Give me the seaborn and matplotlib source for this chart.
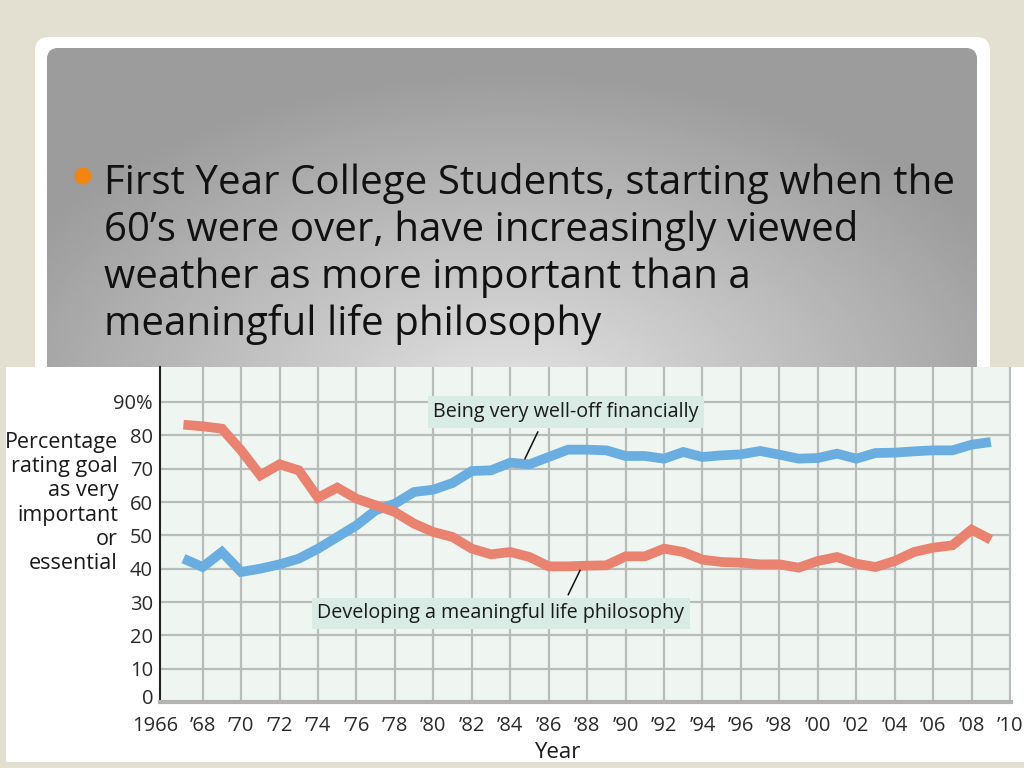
import numpy as np
import pandas as pd
import matplotlib
matplotlib.use("Agg")
import matplotlib.pyplot as plt
import matplotlib.transforms as mtransforms
from matplotlib.patches import FancyBboxPatch, Rectangle, Circle
import seaborn as sns

# data (freshman survey, 1967-2009)
years = list(range(1967, 2010))
well_off = [43, 40.5, 45, 39, 40, 41.3, 43, 46, 49.5, 53, 57.5, 59.5, 63, 63.7, 65.7,
            69.3, 69.5, 71.8, 71.3, 73.5, 75.7, 75.7, 75.5, 73.8, 73.8, 73, 75, 73.5, 74, 74.3,
            75.3, 74.2, 73, 73.2, 74.5, 73, 74.7, 74.8, 75.2, 75.5, 75.5, 77.2, 78]
philosophy = [83.2, 82.7, 82, 75.5, 68, 71.3, 69.5, 61.3, 64.3, 61, 59, 57, 53.5, 51, 49.5,
              46, 44.3, 45, 43.5, 40.7, 40.7, 40.9, 41, 43.7, 43.7, 46, 45, 42.7, 42, 41.8,
              41.3, 41.3, 40.3, 42.3, 43.5, 41.5, 40.5, 42.3, 45, 46.3, 47, 51.7, 48.7]

series_names = ["Being very well-off financially", "Developing a meaningful life philosophy"]
x_ticks = list(range(1966, 2011, 2))
x_labels = ["1966"] + ["\u2019%02d" % (y % 100) for y in x_ticks[1:]]
y_ticks = list(range(0, 100, 10))
y_labels = [str(v) for v in y_ticks[:-1]] + ["90%"]

slide_lines = ["First Year College Students, starting when the",
               "60\u2019s were over, have increasingly viewed",
               "weather as more important than a",
               "meaningful life philosophy"]

df = pd.DataFrame({
    "Year": years * 2,
    "Percent": well_off + philosophy,
    "Goal": [series_names[0]] * len(years) + [series_names[1]] * len(years),
})

sns.set_theme(style="white")
plt.rcParams["font.family"] = ["Open Sans", "DejaVu Sans"]

fig = plt.figure(figsize=(10.24, 7.68), dpi=100)
fig.patch.set_facecolor("#e3e0d2")

# slide background in pixel coordinates
bg = fig.add_axes([0, 0, 1, 1])
bg.set_xlim(0, 1024)
bg.set_ylim(768, 0)
bg.axis("off")

bg.add_patch(FancyBboxPatch((37, 40), 953, 720, boxstyle="round,pad=0,rounding_size=14",
                            fc="#d2cfc2", ec="none", zorder=1))
bg.add_patch(FancyBboxPatch((35, 37), 955, 720, boxstyle="round,pad=0,rounding_size=14",
                            fc="white", ec="none", zorder=2))
panel = FancyBboxPatch((47, 48), 930, 700, boxstyle="round,pad=0,rounding_size=12",
                       fc="#a0a0a0", ec="none", zorder=3)
bg.add_patch(panel)
gx, gy = np.meshgrid(np.linspace(47, 977, 300), np.linspace(48, 370, 120))
dist = np.sqrt(((gx - 512) / 560) ** 2 + ((gy - 400) / 330) ** 2)
shade = 0.89 - 0.28 * np.clip(dist, 0, 1)
img = bg.imshow(shade, cmap="gray", vmin=0, vmax=1, extent=[47, 977, 370, 48],
                aspect="auto", zorder=4, interpolation="bilinear")
img.set_clip_path(panel)

bg.add_patch(Circle((83, 176), 8.5, fc="#f0850f", ec="none", zorder=5))
for i, line in enumerate(slide_lines):
    bg.text(104, 194 + i * 47, line, fontsize=29, color="#111111",
            va="baseline", ha="left", zorder=6)

bg.add_patch(Rectangle((6, 367), 1018, 395, fc="white", ec="none", zorder=7))

bg.text(118, 503, "Percentage\nrating goal\nas very\nimportant\nor\nessential",
        ha="right", va="center", fontsize=15.5, linespacing=1.2, color="#1a1a1a", zorder=8)
bg.text(557, 752, "Year", ha="center", va="center", fontsize=16, color="#1a1a1a", zorder=8)

# the chart itself
ax = fig.add_axes([160 / 1024, 1 - 702 / 768, 851 / 1024, 335 / 768])
ax.set_facecolor("#eff5f1")
sns.lineplot(data=df, x="Year", y="Percent", hue="Goal", hue_order=series_names,
             palette=["#6aade0", "#e9826f"], linewidth=7, legend=False, ax=ax,
             solid_joinstyle="miter", solid_capstyle="butt", zorder=3)
ax.set_xlim(1965.78, 2010.05)
ax.set_ylim(0, 100.5)
ax.set_xticks(x_ticks)
ax.set_xticklabels(x_labels)
ax.set_yticks(y_ticks)
ax.set_yticklabels(y_labels)
ax.set_xlabel("")
ax.set_ylabel("")
ax.grid(True, color="#b9bdb9", linewidth=1.6, zorder=1)
ax.set_axisbelow(True)
ax.xaxis.get_gridlines()[0].set_visible(False)
ax.tick_params(length=0, labelsize=14.5, labelcolor="#2a2a2a")
ax.tick_params(axis="x", pad=10)
ax.tick_params(axis="y", pad=5)
first = ax.get_xticklabels()[0]
first.set_transform(first.get_transform() + mtransforms.ScaledTranslation(-0.09, 0, fig.dpi_scale_trans))
zero = ax.get_yticklabels()[0]
zero.set_transform(zero.get_transform() + mtransforms.ScaledTranslation(0, 0.05, fig.dpi_scale_trans))

for s in ["top", "right"]:
    ax.spines[s].set_visible(False)
ax.spines["left"].set_color("#222222")
ax.spines["left"].set_linewidth(1.5)
ax.spines["bottom"].set_color("#b3b3b3")
ax.spines["bottom"].set_linewidth(3)

box = dict(boxstyle="square,pad=0.28", fc="#d9ebe5", ec="none")
ax.text(1986.9, 87.0, series_names[0], ha="center", va="center", fontsize=14.2,
        color="#1a1a1a", bbox=box, zorder=5)
ax.text(1983.5, 26.6, series_names[1], ha="center", va="center", fontsize=14.2,
        color="#1a1a1a", bbox=box, zorder=5)
ax.annotate("", xy=(1984.7, 72.2), xytext=(1985.5, 81.8),
            arrowprops=dict(arrowstyle="-", color="#111111", lw=1.1), zorder=6)
ax.annotate("", xy=(1987.7, 40.3), xytext=(1986.95, 31.4),
            arrowprops=dict(arrowstyle="-", color="#111111", lw=1.1), zorder=6)

fig.savefig("out.png", dpi=100)
